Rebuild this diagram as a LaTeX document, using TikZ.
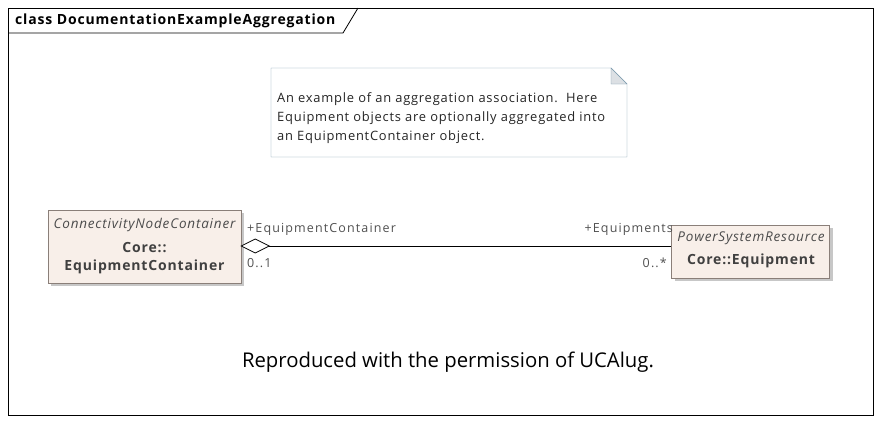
\documentclass[tikz,border=0pt]{standalone}
\usepackage{fontspec}
\setmainfont{Open Sans}
\newfontfamily\capfont[LetterSpace=6]{Open Sans}
\newfontfamily\rolefont[LetterSpace=9]{Open Sans}
\newfontfamily\plainfont{Open Sans}
\definecolor{classfill}{HTML}{F8EFE9}
\definecolor{classedge}{HTML}{8A7F79}
\definecolor{noteedge}{HTML}{7A98AC}
\definecolor{notefold}{HTML}{DCE0E4}
\definecolor{labelgrey}{HTML}{505050}
\tikzset{
  classbox/.style={draw=classedge,fill=classfill,inner sep=0pt,
    drop shadow={shadow xshift=3pt,shadow yshift=-3pt,fill=black!22,opacity=1}},
  rolelabel/.style={font=\rolefont\fontsize{12.5}{14}\selectfont,text=labelgrey,inner sep=0pt}
}
\usetikzlibrary{shadows}
\begin{document}
\begin{tikzpicture}[x=1pt,y=-1pt]
  \useasboundingbox (0,0) rectangle (882,424);
  % frame and title tab
  \draw[line width=1pt] (8,8) rectangle (873,415);
  \draw[line width=0.8pt] (8,33) -- (343,33) -- (358,8);
  \node[anchor=west,inner sep=0pt,font=\capfont\bfseries\fontsize{14}{16}\selectfont]
    (title) at (15,20.5) {class DocumentationExampleAggregation};
  % note
  \draw[noteedge,fill=white] (271,68) -- (611,68) -- (627,84) -- (627,157) -- (271,157) -- cycle;
  \draw[noteedge,fill=notefold] (611,68) -- (611,84) -- (627,84) -- cycle;
  \node[anchor=north west,align=left,inner sep=0pt,text=black!85,
    font=\capfont\fontsize{12.9}{19}\selectfont] (note) at (277,92)
    {An example of an aggregation association.\ \ Here\\
     Equipment objects are optionally aggregated into\\
     an EquipmentContainer object.};
  % classes
  \node[classbox,minimum width=193pt,minimum height=73pt] (container) at (144.5,246.5) {};
  \node[font=\capfont\itshape\fontsize{13.5}{15}\selectfont,text=black!70,inner sep=0pt]
    at (144.5,225) {ConnectivityNodeContainer};
  \node[font=\capfont\bfseries\fontsize{14}{18}\selectfont,text=black!75,align=center,inner sep=0pt]
    at (144.5,258) {Core::\\EquipmentContainer};
  \node[classbox,minimum width=158pt,minimum height=53pt] (equipment) at (750.5,251.5) {};
  \node[font=\capfont\itshape\fontsize{13.5}{15}\selectfont,text=black!70,inner sep=0pt]
    at (751,238) {PowerSystemResource};
  \node[font=\capfont\bfseries\fontsize{14}{15}\selectfont,text=black!75,inner sep=0pt]
    at (751,261) {Core::Equipment};
  % aggregation
  \coordinate (dtip) at (container.east |- 0,246);
  \draw[line width=0.8pt,fill=white] (dtip) -- ++(14,-7) -- ++(14,7) coordinate (dend) -- ++(-14,7) -- cycle;
  \draw[line width=0.8pt] (dend) -- (equipment.west |- 0,246);
  \node[rolelabel,anchor=west] at (247,229) {+EquipmentContainer};
  \node[rolelabel,anchor=west] at (247,263) {0..1};
  \node[rolelabel,anchor=east] at (673,229) {+Equipments};
  \node[rolelabel,anchor=east] at (667,263) {0..*};
  % footer
  \node[font=\plainfont\fontsize{20.3}{22}\selectfont,inner sep=0pt] (credit) at (448,362)
    {Reproduced with the permission of UCAlug.};
\end{tikzpicture}
\end{document}
